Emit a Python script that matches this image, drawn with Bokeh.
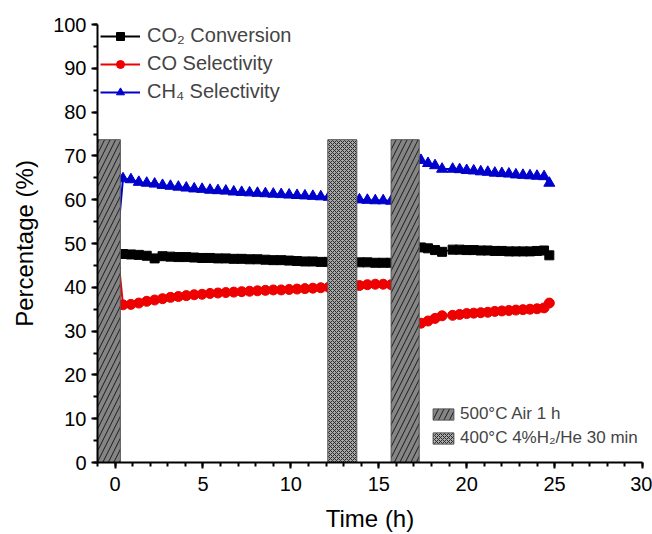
from bokeh.plotting import figure
from bokeh.models import (Legend, LegendItem, FixedTicker, Range1d, ColumnDataSource)
from bokeh.embed import file_html
from bokeh.resources import INLINE

# ---- data ----
time_h = [0.0, 0.45, 0.9, 1.35, 1.8, 2.25, 2.7, 3.15, 3.6, 4.05, 4.5, 4.95, 5.4, 5.85,
          6.3, 6.75, 7.2, 7.65, 8.1, 8.55, 9.0, 9.45, 9.9, 10.35, 10.8, 11.25, 11.7, 12.15,
          13.9, 14.35, 14.8, 15.25, 15.7,
          17.4, 17.8, 18.2, 18.6, 19.2, 19.6, 20.0, 20.4, 20.8, 21.2, 21.6, 22.0, 22.4,
          22.8, 23.2, 23.6, 24.0, 24.4, 24.7]

co2_conversion = [47.0, 47.6, 47.5, 47.4, 47.2, 46.6, 47.1, 47.0, 46.9, 46.9, 46.8, 46.7, 46.7, 46.6,
                  46.6, 46.5, 46.5, 46.4, 46.4, 46.3, 46.2, 46.2, 46.1, 46.0, 45.9, 45.9, 45.8, 45.8,
                  45.7, 45.7, 45.6, 45.6, 45.6,
                  49.1, 48.9, 48.5, 48.1, 48.6, 48.6, 48.5, 48.5, 48.4, 48.4, 48.3, 48.3, 48.2,
                  48.2, 48.2, 48.2, 48.3, 48.4, 47.3]

co_selectivity = [54.0, 36.0, 36.1, 36.4, 36.8, 37.1, 37.4, 37.7, 37.9, 38.1, 38.3, 38.4, 38.6, 38.7,
                  38.8, 38.9, 39.0, 39.1, 39.2, 39.3, 39.4, 39.4, 39.5, 39.6, 39.7, 39.8, 39.9, 40.0,
                  40.4, 40.6, 40.7, 40.7, 40.6,
                  31.8, 32.3, 32.9, 33.5, 33.6, 33.8, 34.0, 34.1, 34.2, 34.3, 34.5, 34.6, 34.7,
                  34.8, 34.9, 35.0, 35.1, 35.3, 36.4]

ch4_selectivity = [45.0, 64.8, 64.6, 64.0, 63.8, 63.6, 63.3, 63.1, 62.9, 62.7, 62.5, 62.4, 62.2, 62.1,
                   62.0, 61.8, 61.7, 61.6, 61.5, 61.4, 61.3, 61.2, 61.1, 61.0, 60.9, 60.8, 60.7, 60.6,
                   60.0, 59.9, 59.8, 59.8, 59.7,
                   69.0, 68.3, 67.8, 67.0, 67.0, 66.9, 66.7, 66.6, 66.4, 66.3, 66.1, 66.0, 65.9,
                   65.7, 65.6, 65.5, 65.4, 65.3, 63.8]

# treatment periods (h)
air_left = [-1.0, 15.7]
air_right = [0.3, 17.3]
air_top = [73.7, 73.7]
h2_left = [12.1]
h2_right = [13.75]
h2_top = [73.7]

x_ticks = [0, 5, 10, 15, 20, 25, 30]
y_ticks = [0, 10, 20, 30, 40, 50, 60, 70, 80, 90, 100]

FONT = "Liberation Sans"

p = figure(width=652, height=534, output_backend="svg", toolbar_location=None,
           x_range=Range1d(-1, 30), y_range=Range1d(0, 100),
           min_border_left=97, min_border_right=10, min_border_top=24, min_border_bottom=72)
p.outline_line_color = None
p.grid.grid_line_color = None
p.background_fill_color = "white"
p.border_fill_color = "white"

src = ColumnDataSource(dict(t=time_h, co2=co2_conversion, co=co_selectivity, ch4=ch4_selectivity))

l1 = p.line("t", "co2", source=src, line_color="black", line_width=2)
s1 = p.scatter("t", "co2", source=src, marker="square", size=9, color="black")
l2 = p.line("t", "co", source=src, line_color="#ee0000", line_width=2)
s2 = p.scatter("t", "co", source=src, marker="circle", size=10, color="#ee0000")
l3 = p.line("t", "ch4", source=src, line_color="#0000cc", line_width=2)
s3 = p.scatter("t", "ch4", source=src, marker="triangle", size=11, color="#0000cc")

q1 = p.quad(left=air_left, right=air_right, bottom=0, top=air_top,
            fill_color="#858585", line_color="#555555", line_width=1,
            hatch_pattern="/", hatch_color="#1a1a1a", hatch_scale=11, hatch_weight=1)
q2 = p.quad(left=h2_left, right=h2_right, bottom=0, top=h2_top,
            fill_color="#a8a8a8", line_color="#555555", line_width=1,
            hatch_pattern="x", hatch_color="#2a2a2a", hatch_scale=4, hatch_weight=1)

# axes
for ax in (p.xaxis[0], p.yaxis[0]):
    ax.axis_line_width = 2
    ax.axis_line_color = "black"
    ax.major_tick_line_width = 2
    ax.minor_tick_line_width = 2
    ax.major_tick_out = 6
    ax.major_tick_in = 0
    ax.minor_tick_out = 4
    ax.minor_tick_in = 0
    ax.major_label_text_font = FONT
    ax.major_label_text_font_size = "20px"
    ax.major_label_text_color = "black"
    ax.axis_label_text_font = FONT
    ax.axis_label_text_font_size = "24px"
    ax.axis_label_text_font_style = "normal"
    ax.axis_label_text_color = "black"

p.xaxis[0].ticker = FixedTicker(ticks=x_ticks, minor_ticks=list(range(-1, 31)))
p.yaxis[0].ticker = FixedTicker(ticks=y_ticks, minor_ticks=list(range(0, 101, 5)))
p.xaxis[0].axis_label = "Time (h)"
p.yaxis[0].axis_label = "Percentage (%)"
p.xaxis[0].major_label_standoff = 8
p.yaxis[0].major_label_standoff = 5
p.xaxis[0].axis_label_standoff = 11
p.yaxis[0].axis_label_standoff = 12

leg1 = Legend(items=[
    LegendItem(label="CO₂ Conversion", renderers=[l1, s1]),
    LegendItem(label="CO Selectivity", renderers=[l2, s2]),
    LegendItem(label="CH₄ Selectivity", renderers=[l3, s3]),
], location=(3, 359))
leg1.label_text_font = FONT
leg1.label_text_font_size = "20px"
leg1.glyph_width = 40
leg1.glyph_height = 20
leg1.spacing = 5
leg1.padding = 0
leg1.margin = 0
leg1.label_standoff = 7
leg1.border_line_color = None
leg1.background_fill_alpha = 0
p.add_layout(leg1, "center")

leg2 = Legend(items=[
    LegendItem(label="500°C Air 1 h", renderers=[q1]),
    LegendItem(label="400°C 4%H₂/He 30 min", renderers=[q2]),
], location=(333, 14))
leg2.label_text_font = FONT
leg2.label_text_font_size = "17px"
leg2.glyph_width = 26
leg2.glyph_height = 14
leg2.spacing = 4
leg2.padding = 0
leg2.margin = 0
leg2.label_standoff = 4
leg2.border_line_color = None
leg2.background_fill_alpha = 0
p.add_layout(leg2, "center")

open("out.html", "w").write(file_html(p, INLINE))
